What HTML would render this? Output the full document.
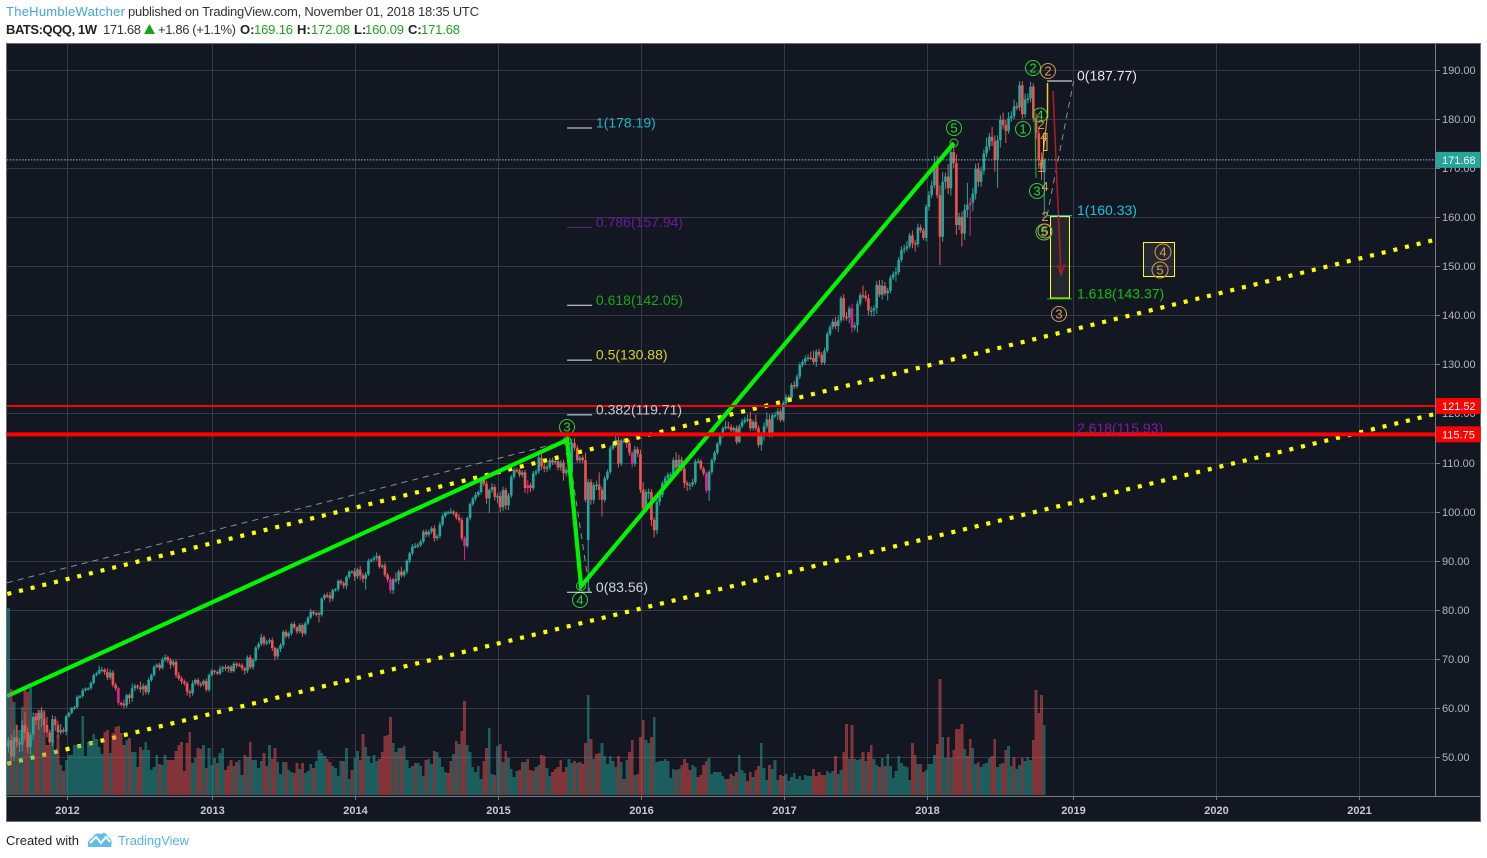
<!DOCTYPE html>
<html>
<head>
<meta charset="utf-8">
<title>BATS:QQQ 1W chart</title>
<style>
html,body{margin:0;padding:0;background:#fff;width:1487px;height:858px;overflow:hidden}
svg{display:block;font-family:"Liberation Sans",sans-serif}
</style>
</head>
<body>
<svg id="chart" xmlns="http://www.w3.org/2000/svg" width="1487" height="858" viewBox="0 0 1487 858">
  <g font-size="13">
    <text x="6" y="16" fill="#3ba7dd" textLength="119" lengthAdjust="spacing">TheHumbleWatcher</text>
    <text x="128" y="16" fill="#333" textLength="351" lengthAdjust="spacing">published on TradingView.com, November 01, 2018 18:35 UTC</text>
  </g>
  <g font-size="13">
    <text x="6" y="34" fill="#222" font-weight="bold" textLength="91" lengthAdjust="spacing">BATS:QQQ, 1W</text>
    <text x="103" y="34" fill="#333" textLength="38" lengthAdjust="spacing">171.68</text>
    <polygon points="144,34 155,34 149.5,24" fill="#1aa31a"/>
    <text x="158" y="34" fill="#333" textLength="78" lengthAdjust="spacing">+1.86 (+1.1%)</text>
    <text x="240" y="34" fill="#222" font-weight="bold">O:</text>
    <text x="254" y="34" fill="#1aa31a" textLength="39" lengthAdjust="spacing">169.16</text>
    <text x="297" y="34" fill="#222" font-weight="bold">H:</text>
    <text x="311" y="34" fill="#1aa31a" textLength="39" lengthAdjust="spacing">172.08</text>
    <text x="354" y="34" fill="#222" font-weight="bold">L:</text>
    <text x="365" y="34" fill="#1aa31a" textLength="39" lengthAdjust="spacing">160.09</text>
    <text x="408" y="34" fill="#222" font-weight="bold">C:</text>
    <text x="421" y="34" fill="#1aa31a" textLength="39" lengthAdjust="spacing">171.68</text>
  </g>

  <rect x="6.5" y="43.5" width="1474" height="778" fill="#131722" stroke="#6a6d78"/>
  <defs>
    <clipPath id="plotClip"><rect x="7" y="44" width="1428" height="752"/></clipPath>
  </defs>
  <g id="grid"></g>
  <g id="plot" clip-path="url(#plotClip)">
    <g id="candles"></g>
    <g id="drawings"></g>

    <g>
      <rect x="1050.5" y="216.5" width="19" height="81.5" fill="#ffffff" fill-opacity="0.07" stroke="#ffff00" stroke-width="1"/>
      <rect x="1143.5" y="242.5" width="31" height="34" fill="#ffffff" fill-opacity="0.07" stroke="#ffff00" stroke-width="1"/>
      <line x1="1053" y1="91" x2="1061" y2="275" stroke="#b71c1c" stroke-width="1.5"/>
      <polyline points="1058,265 1061,275 1064.5,264" fill="none" stroke="#b71c1c" stroke-width="1.3"/>
      <line x1="1047.5" y1="83" x2="1047.5" y2="118" stroke="#f7c531" stroke-width="1.5"/>
      <line x1="1047" y1="118" x2="1042" y2="165" stroke="#d98a2a" stroke-width="1.2"/>
      <rect x="1043.5" y="133.5" width="3.5" height="17" fill="none" stroke="#f7c531"/>
      <line x1="1035" y1="120" x2="1036" y2="178" stroke="#1fbf2e" stroke-width="1"/>
    </g>

    <g font-size="13" text-anchor="middle">
      <g fill="none" stroke="#2bd433">
        <circle cx="1033" cy="68" r="7.5"/>
        <circle cx="1023" cy="129" r="7.5"/>
        <circle cx="1040" cy="115" r="7"/>
        <circle cx="1037" cy="191" r="7.5"/>
        <circle cx="1044" cy="232" r="8"/>
        <circle cx="954" cy="128" r="7.5"/>
        <circle cx="567" cy="427" r="7.5"/>
        <circle cx="580" cy="600" r="7.5"/>
        <circle cx="954" cy="143" r="4"/>
        <circle cx="567" cy="441" r="4"/>
        <circle cx="581" cy="586" r="4.5"/>
      </g>
      <g fill="#2bd433">
        <text x="1033" y="72.5">2</text>
        <text x="1023" y="133.5">1</text>
        <text x="1040" y="119.5">4</text>
        <text x="1037" y="195.5">3</text>
        <text x="1044" y="236.5">5</text>
        <text x="954" y="132.5">5</text>
        <text x="567" y="431.5">3</text>
        <text x="580" y="604.5">4</text>
      </g>
      <g fill="none" stroke="#d99a4e">
        <circle cx="1048" cy="71" r="7.5"/>
        <circle cx="1045" cy="231" r="7"/>
        <circle cx="1059" cy="314" r="7.5"/>
        <circle cx="1163" cy="252" r="8"/>
        <circle cx="1160" cy="270" r="8"/>
      </g>
      <g fill="#d99a4e">
        <text x="1048" y="75.5">2</text>
        <text x="1045" y="235.5">5</text>
        <text x="1059" y="318.5">3</text>
        <text x="1163" y="256.5">4</text>
        <text x="1160" y="274.5">5</text>
        <text x="1041" y="129">2</text>
        <text x="1044" y="141">4</text>
        <text x="1041" y="172">1</text>
        <text x="1045" y="191">4</text>
        <text x="1045" y="221">2</text>
      </g>
    </g>

    <g id="levels"></g>
    <g id="volume"></g>
  </g>
  <g id="fibs"></g>
  <g id="axes"></g>

  <g>
    <text x="6" y="845" font-size="13" fill="#222" textLength="73" lengthAdjust="spacing">Created with</text>
    <g>
      <path d="M88 847 Q87 840 92 838 Q95 832 101 834 Q106 831 108 837 Q113 839 111 847 Z" fill="#62bce6"/>
      <polyline points="90,843 96,837 101,843 106,837 110,842" fill="none" stroke="#fff" stroke-width="2"/>
    </g>
    <text x="118" y="845" font-size="13" fill="#54b5e0" textLength="71" lengthAdjust="spacing">TradingView</text>
  </g>
</svg>

<script>
/* ---------- chart data ---------- */
const closes = [
53.4,50.1,54.0,53.0,52.5,56.5,55.0,52.0,54.5,58.2,
57.5,59.0,57.8,56.5,55.0,53.0,57.7,56.5,55.0,55.5,
55.2,58.3,59.0,60.0,60.2,62.2,62.4,63.6,63.9,64.0,
65.1,66.7,67.0,67.7,67.8,67.3,66.2,67.2,64.7,64.0,
61.0,60.9,60.5,62.6,62.0,64.0,64.5,64.2,63.8,64.5,
63.2,65.7,66.7,68.4,68.8,68.1,69.8,70.3,69.7,68.8,
69.4,66.7,66.0,65.4,65.0,63.3,63.0,65.0,65.7,64.9,
64.8,65.5,63.7,66.7,67.6,67.3,67.0,68.0,68.3,68.0,
68.4,67.5,69.0,68.8,68.7,68.1,67.6,70.3,68.3,69.8,
72.3,73.0,74.4,73.2,73.4,73.8,72.2,70.5,72.0,72.8,
75.5,74.6,75.2,77.1,76.4,75.6,76.9,75.2,77.2,78.4,
79.6,79.2,79.3,79.0,82.3,83.0,82.9,82.3,84.0,84.2,
85.9,85.4,84.9,86.7,87.7,87.8,86.8,88.2,87.0,86.3,
87.2,90.0,90.2,90.5,90.9,88.8,89.0,87.1,86.2,84.0,
86.2,86.0,87.8,87.0,87.8,90.0,91.5,92.9,93.0,93.2,
93.9,95.9,95.3,95.9,96.6,94.6,95.0,97.4,99.1,99.8,
99.9,100.0,99.6,98.8,98.3,94.6,93.0,98.7,101.5,102.7,
103.4,104.0,106.5,105.7,102.7,104.4,105.0,103.0,103.2,100.9,
104.4,101.3,103.3,107.1,108.5,108.4,107.5,108.0,104.8,105.4,
104.8,107.8,108.2,111.0,109.2,108.8,109.0,110.5,110.0,110.3,
109.0,110.0,107.8,108.5,108.0,114.0,113.0,110.5,111.0,110.5,
102.4,106.0,102.4,105.4,105.5,104.4,102.4,106.8,108.1,112.9,
113.6,114.6,109.8,114.5,114.4,114.0,112.0,109.8,112.7,111.8,
104.5,100.7,104.0,104.0,98.3,96.2,102.0,103.4,105.8,106.8,
107.5,107.6,110.5,109.0,110.6,108.8,105.8,105.4,105.5,106.0,
110.2,110.3,108.8,107.8,104.3,108.1,110.5,112.0,113.8,115.4,
117.0,117.3,117.2,116.6,117.0,114.2,117.4,118.3,118.7,118.9,
117.0,118.3,117.0,113.6,115.5,117.4,118.8,115.6,119.6,119.7,
120.4,118.7,122.1,123.4,123.2,125.8,125.5,127.5,129.9,130.5,
131.2,131.4,131.3,130.5,132.6,132.0,130.4,132.8,136.2,137.6,
138.7,137.8,139.0,143.5,139.7,139.6,141.4,137.5,138.0,142.4,
144.1,144.0,143.5,141.0,141.0,141.5,146.2,144.2,146.0,144.5,
145.0,147.7,148.4,148.8,151.3,153.3,153.6,154.1,156.3,154.7,
154.5,157.9,157.3,155.8,162.1,164.5,166.5,171.0,164.5,156.0,
167.2,168.3,165.9,173.3,171.0,158.4,160.1,156.7,161.5,162.5,
163.0,164.8,169.9,167.2,169.5,173.0,174.4,176.4,175.5,171.7,
175.7,179.8,178.8,177.6,180.2,180.6,182.6,182.4,186.9,181.0,
184.0,184.2,186.6,180.2,177.1,171.7,169.82,171.68
];
const firstOpen = 52.1;
const gapOpenWeeks = [211, 377];
const gapOpenPrices = [94.2, 169.16];
const wickUp = [
0.6,1.2,1.6,2.6,0.8,1.0,2.6,1.0,0.6,0.9, 0.8,0.6,1.2,1.4,1.7,0.6,0.8,0.6,0.8,1.2,
0.5,0.3,0.2,0.2,0.2,0.4,0.3,0.4,0.3,0.2, 0.3,0.3,0.4,0.9,0.5,0.3,0.8,0.7,0.5,0.4,
0.3,0.3,0.8,0.3,0.4,1.0,0.4,0.3,1.2,0.5, 0.3,0.4,0.3,0.3,0.3,0.4,0.5,0.6,0.4,0.4,
0.4,0.3,0.6,0.4,0.4,0.4,0.4,0.6,0.3,0.4, 0.4,0.3,0.5,0.3,0.3,0.2,0.3,0.6,0.3,0.5,
0.3,0.3,0.4,0.3,0.4,0.4,0.3,0.4,0.5,0.3, 0.3,0.4,0.7,0.4,0.5,0.4,0.5,0.3,0.3,0.4,
0.4,0.4,0.4,0.3,0.5,0.3,0.4,0.3,0.4,0.3, 0.6,0.3,0.3,0.3,0.2,0.3,0.5,0.7,0.3,0.2,
0.3,0.3,0.4,0.3,0.4,0.3,0.7,0.4,0.8,0.5, 0.5,0.4,0.3,0.5,0.8,0.3,0.4,0.6,0.4,0.5,
0.3,1.4,0.4,1.0,0.4,0.3,0.3,0.5,0.6,0.4, 0.4,0.4,0.5,0.4,0.4,0.6,0.4,0.5,0.5,0.3,
0.3,0.7,0.3,0.4,0.7,0.5,0.4,0.3,0.4,0.3, 0.6,0.3,0.4,0.5,0.6,0.3,0.8,0.5,0.5,0.9,
0.7,0.5,0.5,0.4,0.5,0.5,0.4,0.4,0.5,1.0, 0.5,0.5,0.4,0.8,0.7,0.5,0.6,0.4,0.5,0.5,
1.0,0.5,0.6,0.5,0.6,0.8,1.0,0.5,0.4,0.5, 1.5,0.7,0.6,0.5,0.8,2.5,0.6,0.4,0.5,0.5,
0.5,1.0,0.6,0.4,0.6,0.6,0.7,0.4,0.7,0.5, 0.8,1.5,0.6,0.7,0.6,0.5,0.4,0.5,0.4,0.5,
0.5,0.4,0.5,1.6,1.0,0.6,0.6,0.5,0.5,0.7, 0.5,0.6,0.4,0.4,0.4,0.4,0.4,0.4,0.4,0.4,
0.4,1.2,1.0,0.6,0.4,0.6,0.4,0.6,0.6,0.9, 1.5,0.4,1.5,0.6,0.6,0.8,1.4,1.0,0.5,0.6,
0.7,0.6,0.5,0.6,0.4,0.4,0.8,0.5,0.5,0.5, 0.6,0.7,1.2,1.5,0.5,0.6,0.5,0.6,0.5,0.5,
0.6,1.0,1.0,0.5,0.8,1.0,0.5,1.0,0.6,0.6, 0.5,2.0,1.0,0.8,0.8,0.5,0.8,1.0,1.2,0.8,
0.6,0.5,0.6,1.0,0.6,0.8,0.8,1.0,0.5,1.0, 0.7,0.8,0.6,0.5,0.5,0.8,1.0,1.5,1.5,2.0,
2.0,0.8,2.5,1.0,1.5,1.8,0.8,1.0,1.2,4.5, 1.0,1.2,1.0,1.2,0.8,0.8,1.8,0.8,2.0,1.2,
1.0,1.0,1.5,1.0,1.2,1.0,1.4,0.8,0.8,0.8, 1.2,1.0,1.0,0.7,1.0,1.0,1.5,0.4
];
const wickDown = [
1.2,1.6,1.0,1.0,1.5,1.4,1.6,1.2,1.5,1.0, 1.0,2.0,1.6,1.5,1.0,0.5,0.8,1.2,1.0,0.5,
0.4,0.8,0.3,0.3,0.4,0.4,0.3,0.3,0.3,0.3, 0.3,0.3,0.3,0.2,0.5,0.6,0.5,0.5,0.5,0.5,
0.5,0.6,0.6,0.5,1.2,0.8,0.6,0.5,0.7,1.3, 0.5,0.5,0.4,0.3,0.3,0.5,0.3,0.4,0.6,0.8,
0.4,0.6,0.4,0.6,0.5,0.8,0.9,0.5,0.4,0.5, 0.6,0.4,0.4,0.4,0.3,0.5,0.3,0.3,0.7,0.5,
0.8,0.4,0.3,0.7,0.3,0.5,0.8,0.5,0.4,0.5, 0.4,0.4,0.4,0.5,0.4,0.4,0.6,0.8,0.5,0.6,
0.5,0.4,0.5,0.4,0.4,0.6,0.4,0.7,0.4,0.3, 0.3,0.4,0.6,1.6,0.4,0.4,0.5,0.8,0.5,0.3,
0.5,0.4,0.6,0.7,0.4,0.3,0.9,0.5,1.0,0.8, 2.2,0.3,0.4,0.4,0.5,0.4,0.4,0.4,0.6,0.7,
0.8,0.5,0.8,0.4,0.4,0.5,0.5,0.4,0.4,0.4, 0.4,0.4,0.5,0.5,0.4,0.7,0.5,0.5,0.4,0.4,
0.4,0.4,0.4,0.4,0.5,0.5,2.9,0.4,0.5,0.4, 0.5,0.4,0.5,0.5,1.1,3.0,0.6,0.7,1.3,1.0,
0.8,0.9,1.0,0.5,0.5,0.5,0.5,0.5,1.0,1.2, 0.8,0.5,0.5,0.5,0.7,0.8,0.7,0.5,0.5,0.5,
0.6,0.7,1.5,0.6,1.0,0.8,0.5,0.5,0.6,0.6, 0.5,10.64,1.0,0.8,1.0,2.0,3.4,0.5,0.4,0.5,
0.4,0.5,0.8,0.5,0.5,1.0,0.6,0.8,0.6,0.7, 0.7,1.0,0.7,1.5,1.2,1.5,0.8,0.8,0.5,0.6,
0.5,0.5,0.5,0.7,1.0,0.6,1.0,1.2,1.0,0.5, 0.5,0.4,0.4,0.5,0.5,2.1,0.5,0.5,0.4,0.4,
0.3,0.4,0.4,0.4,0.5,0.5,0.3,0.4,0.4,0.5, 0.5,0.5,0.5,0.5,1.2,1.0,0.5,0.5,0.5,0.5,
1.1,0.5,0.4,0.5,0.4,0.5,0.5,0.4,0.5,0.5, 0.6,0.5,0.4,0.5,1.0,0.6,0.5,0.5,0.4,0.4,
0.5,0.6,1.2,0.5,0.8,0.7,1.2,1.0,0.6,1.5, 0.5,0.6,0.7,1.0,1.2,1.2,1.2,0.5,1.0,0.5,
1.5,0.5,0.5,1.5,0.6,0.5,0.7,0.6,0.5,1.0, 1.5,0.6,0.5,0.5,0.7,0.8,0.6,0.6,0.6,5.7,
1.0,1.5,1.2,1.5,1.0,2.0,1.0,2.7,1.3,1.5, 6.3,1.8,1.2,1.0,1.0,0.8,0.8,0.8,1.0,2.4,
5.7,1.5,0.8,2.5,0.6,0.8,0.6,0.6,0.7,1.0, 0.7,0.8,0.8,0.8,1.2,1.8,2.2,9.07
];
const pinkWeeks = [40, 139, 166, 189, 227, 254, 307, 350];
const volumes = [
187,106,93,70,65,88,105,103,109,70, 82,85,85,85,50,50,55,45,60,30,
24,35,40,40,50,50,50,79,39,53, 53,61,56,48,41,63,65,42,62,68,
69,62,50,55,57,43,43,28,48,45, 53,45,25,28,40,31,30,40,35,35,
35,44,50,53,24,52,63,32,37,47, 46,50,27,47,30,37,32,42,47,25,
29,35,29,33,35,20,40,38,53,35, 35,27,34,42,29,50,36,47,33,21,
33,33,25,23,22,32,26,32,22,24, 31,27,34,45,42,39,36,33,29,27,
19,34,34,47,16,25,37,44,
35,61,48,39,32,40,34,36,43,59, 60,78,52,43,47,47,49,35,27,29,
32,32,29,19,35,36,31,44,43,37, 28,23,22,34,41,54,51,64,94,50,
43,28,23,29,16,34,47,67,21,20, 49,51,33,44,37,26,18,24,25,33,
33,36,25,24,28,30,40,39,27,19, 23,26,28,35,23,28,36,32,34,32,
33,31,52,100,56,36,41,42,52,39, 31,39,34,28,39,33,16,35,43,55,
20,21,58,75,55,52,58,78,33,34, 34,36,34,17,26,25,26,30,36,32,
25,30,28,18,20,30,34,37,21,23, 23,23,19,
16,
16,21,19,23,40,25,22,14,23,
18,25,29,52,27,15,30,26,35,15, 20,19,21,14,18,22,16,19,15,20,
19,19,26,19,23,20,20,24,22,24, 39,21,25,43,71,36,70,36,35,36,
43,34,43,50,36,30,28,37,29,41, 29,17,24,39,32,29,28,15,52,40,
31,31,23,25,31,31,40,51,116,58, 37,58,37,45,66,66,71,46,39,56,
47,31,33,28,31,32,37,39,56,28, 31,32,45,49,29,38,26,30,37,34,
38,35,55,105,82,100,70
];
const volumeUpFlags =
"1010110011"+"0010001101"+"0111111111"+"1111100100"+"0001011001"+"1111101100"+
"0000000110"+"0101110110"+"0010110101"+"1110010011"+"1011001011"+"1011110011"+"11011011"+
"0011111000"+"0010101111"+"0111011011"+"1100101001"+"1111100110"+"1010111100"+
"1001010011"+"0000001101"+"0001010011"+"1111010100"+"1000110111"+"1111101000"+"0110000111"+"111"+
"1"+"001011100"+
"1001110111"+"0011111111"+"1100000111"+"0110010111"+"0100110101"+"1111111100"+
"1001111001"+"1010000100"+"1101111001"+"1001101101"+"1100001";

const priceTicks = [190,180,170,160,150,140,130,120,110,100,90,80,70,60,50];
const yearLabels = ["2012","2013","2014","2015","2016","2017","2018","2019","2020","2021"];
const yearWeeks = [21.3,74.06,126.1,178.1,230.2,282.3,334.3,387.4,439.4,491.5];

const lastPrice = 171.68;
const levelPrices = [121.52, 115.75];
const levelWidths = [2, 4];

const leftFibRatios = ["1","0.786","0.618","0.5","0.382","0"];
const leftFibPrices = [178.19,157.94,142.05,130.88,119.71,83.56];
const leftFibColors = ["#17b6c9","#6a1b9a","#18a818","#d6d030","#c8c9cc","#d1d4dc"];
const leftFibStartWeek = 203.3;
const leftFibEndWeek = 212.4;
const leftFibTextWeek = 213.8;

const rightFibRatios = ["0","1","1.618","2.618"];
const rightFibPrices = [187.77,160.33,143.37,115.93];
const rightFibColors = ["#e6e7ea","#17c3d9","#0ec00e","#7b1fa2"];
const rightFibStartWeek = 378;
const rightFibEndWeek = 387.1;
const rightFibTextWeek = 388.9;

const waveWeeks = [-0.55, 203.3, 208.4, 344.1];
const wavePrices = [62.4, 114.6, 84.8, 175.1];
const channelWeeks = [-0.55, 519.2];
const upperChannelPrices = [83.2, 155.4];
const lowerChannelPrices = [48.6, 119.9];
const guideWeeks = [-0.55, 203.3, 211.6];
const guidePrices = [85.5, 114.4, 83.56];
const projectionWeeks = [378, 387.7];
const projectionPrices = [160.33, 187.77];

/* ---------- axis functions ---------- */
const weekStep = 2.7475;
function weekX(w){ return 8.5 + w * weekStep; }
function priceY(p){ return 70 + (190 - p) * 4.907; }
function volumeY(v){ return 795 - v; }

const NS = "http://www.w3.org/2000/svg";
function make(tag, parent, attrs){
  const el = document.createElementNS(NS, tag);
  for (const k in attrs) el.setAttribute(k, attrs[k]);
  parent.appendChild(el);
  return el;
}
const grid = document.getElementById('grid');
const axes = document.getElementById('axes');
const candles = document.getElementById('candles');
const drawings = document.getElementById('drawings');
const levels = document.getElementById('levels');
const fibs = document.getElementById('fibs');
const volume = document.getElementById('volume');

/* grid and axes */
priceTicks.forEach(function(p){
  const y = Math.round(priceY(p)) + 0.5;
  const g = make('line', grid, {x1:7, x2:1435, y1:y, y2:y, stroke:'#363a48', 'stroke-width':1});
  
  
  const t = make('line', axes, {x1:1435, x2:1440, y1:y, y2:y, stroke:'#787b86', 'stroke-width':1});
  
  
  const l = make('text', axes, {x:1442, y:y + 3.5, fill:'#b2b5be', 'font-size':11});
  
  
  l.textContent = p.toFixed(2);
});
yearLabels.forEach(function(label, i){
  const x = Math.round(weekX(yearWeeks[i])) + 0.5;
  const g = make('line', grid, {x1:x, x2:x, y1:44, y2:796, stroke:'#363a48', 'stroke-width':1});
  
  
  const t = make('line', axes, {x1:x, x2:x, y1:796, y2:800, stroke:'#787b86', 'stroke-width':1});
  
  
  const l = make('text', axes, {x:x, y:814, fill:'#c8c9cd', 'font-size':11, 'font-weight':'bold', 'text-anchor':'middle'});
  
  
  l.textContent = label;
});
const priceAxisLine = make('line', axes, {x1:1435.5, x2:1435.5, y1:44, y2:796, stroke:'#787b86', 'stroke-width':1});


const timeAxisLine = make('line', axes, {x1:7, x2:1481, y1:796.5, y2:796.5, stroke:'#787b86', 'stroke-width':1});



/* candles */
closes.forEach(function(c, i){
  const gapIndex = gapOpenWeeks.indexOf(i);
  const o = gapIndex >= 0 ? gapOpenPrices[gapIndex] : (i === 0 ? firstOpen : closes[i - 1]);
  const up = c >= o;
  let color = up ? '#26a69a' : '#ef5350';
  if (pinkWeeks.indexOf(i) >= 0) color = '#e91e8c';
  const top = Math.max(o, c);
  const bot = Math.min(o, c);
  const x = weekX(i);
  const wick = make('line', candles, {x1:x, x2:x, y1:priceY(top + wickUp[i]), y2:priceY(bot - wickDown[i]), stroke:color, 'stroke-width':1});
  
  
  const body = make('rect', candles, {x:x - 1.3, y:priceY(top), width:2.6, height:Math.max(1.5, priceY(bot) - priceY(top)), fill:color});
  
  
});

/* trend drawings */
function polyPoints(weeks, prices){
  return weeks.map(function(w, i){ return weekX(w) + ',' + priceY(prices[i]); }).join(' ');
}
const guideLine = make('polyline', drawings, {points:polyPoints(guideWeeks, guidePrices), fill:'none', stroke:'#8a8d96', 'stroke-width':1, 'stroke-dasharray':'6 5'});


const projectionLine = make('polyline', drawings, {points:polyPoints(projectionWeeks, projectionPrices), fill:'none', stroke:'#8a8d96', 'stroke-width':1, 'stroke-dasharray':'6 5'});


const upperChannel = make('polyline', drawings, {points:polyPoints(channelWeeks, upperChannelPrices), fill:'none', stroke:'#ffff00', 'stroke-width':4.2, 'stroke-dasharray':'4 8', 'stroke-dashoffset':-0.4});


const lowerChannel = make('polyline', drawings, {points:polyPoints(channelWeeks, lowerChannelPrices), fill:'none', stroke:'#ffff00', 'stroke-width':4.2, 'stroke-dasharray':'4 8', 'stroke-dashoffset':-0.3});


const waveLine = make('polyline', drawings, {points:polyPoints(waveWeeks, wavePrices), fill:'none', stroke:'#00f500', 'stroke-width':4.2, 'stroke-linejoin':'miter'});



/* last price and horizontal levels */
const lastLine = make('line', levels, {x1:7, x2:1435, y1:priceY(lastPrice), y2:priceY(lastPrice), stroke:'#7fc7c0', 'stroke-width':1, 'stroke-dasharray':'1.5 1.5'});


levelPrices.forEach(function(p, i){
  const line = make('line', levels, {x1:7, x2:1435, y1:priceY(p), y2:priceY(p), stroke:'#ff0000', 'stroke-width':levelWidths[i]});
  
  
});

/* volume (semi-transparent, drawn over the plot) */
volumes.forEach(function(v, i){
  const up = volumeUpFlags.charAt(i) === '1';
  const bar = make('rect', volume, {x:weekX(i) - weekStep / 2, y:volumeY(v), width:weekStep, height:v, fill:up ? 'rgba(38,166,154,0.5)' : 'rgba(239,83,80,0.5)', 'shape-rendering':'crispEdges'});
  
  
});

/* fibonacci levels */
leftFibRatios.forEach(function(ratio, i){
  const y = priceY(leftFibPrices[i]);
  const line = make('line', fibs, {x1:weekX(leftFibStartWeek), x2:weekX(leftFibEndWeek), y1:y, y2:y, stroke:i === 1 ? '#55307a' : '#e6e7ea', 'stroke-width':1});
  
  
  const t = make('text', fibs, {x:weekX(leftFibTextWeek), y:y - 0.5, fill:leftFibColors[i], 'font-size':14});
  
  
  t.textContent = ratio + '(' + leftFibPrices[i].toFixed(2) + ')';
});
rightFibRatios.forEach(function(ratio, i){
  const y = priceY(rightFibPrices[i]);
  if (i < 3) {
    const line = make('line', fibs, {x1:weekX(rightFibStartWeek), x2:weekX(rightFibEndWeek), y1:y, y2:y, stroke:i === 0 ? '#ffffff' : (i === 1 ? '#17c3d9' : '#00d000'), 'stroke-width':1});
    
    
  }
  const t = make('text', fibs, {x:weekX(rightFibTextWeek), y:y - 0.5, fill:rightFibColors[i], 'font-size':14});
  
  
  t.textContent = ratio + '(' + rightFibPrices[i].toFixed(2) + ')';
});

/* price tags */
function priceTag(p, fill, name){
  const y = priceY(p);
  const box = make('rect', axes, {x:1436, y:y - 8, width:44.5, height:16, fill:fill});
  
  
  const label = make('text', axes, {x:1442, y:y + 4, fill:'#ffffff', 'font-size':11});
  
  
  label.textContent = p.toFixed(2);
}
priceTag(lastPrice, '#26a69a', 'last-price');
levelPrices.forEach(function(p){ priceTag(p, '#ff0000', 'level-' + p); });
</script>
</body>
</html>
